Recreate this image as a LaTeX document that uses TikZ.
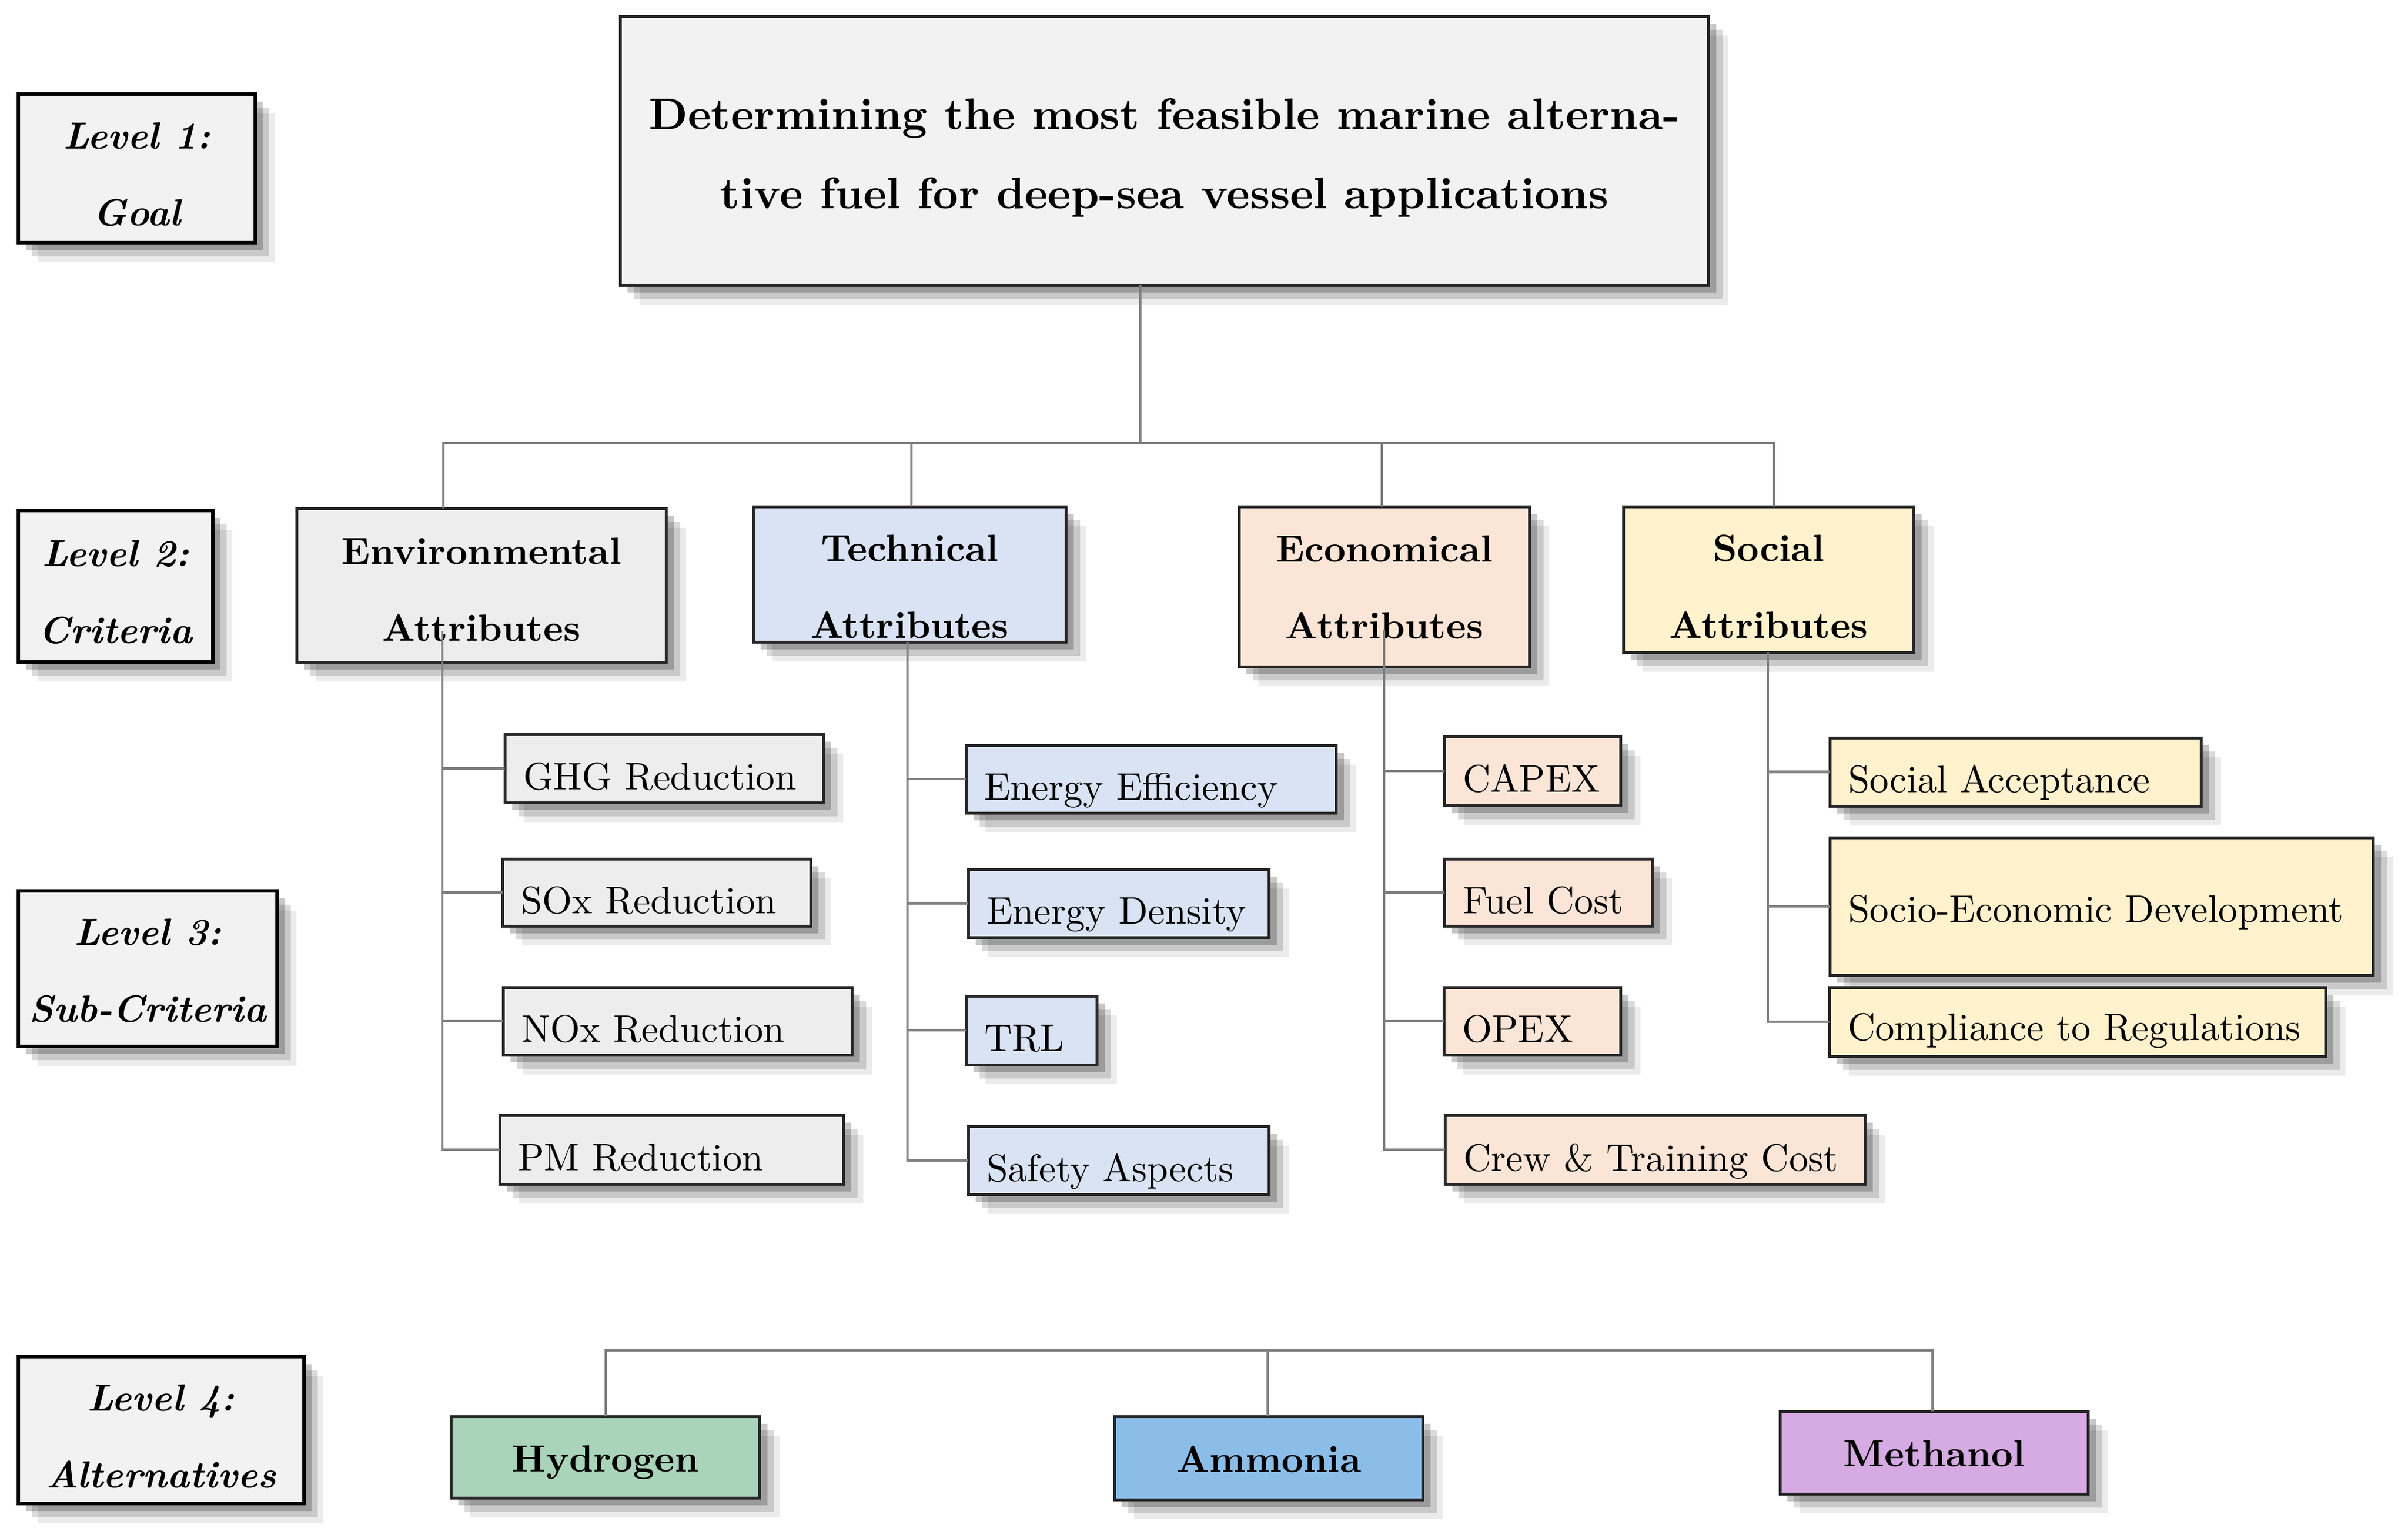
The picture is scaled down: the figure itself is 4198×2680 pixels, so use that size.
\documentclass[tikz,border=0pt]{standalone}
\usepackage{fontspec}
\setmainfont{lmroman10-regular.otf}[BoldFont=lmroman10-bold.otf,ItalicFont=lmroman10-italic.otf,BoldItalicFont=lmroman10-bolditalic.otf]
\usetikzlibrary{shadows}
\definecolor{bord}{HTML}{262626}
\definecolor{conng}{HTML}{7F7F7F}
\definecolor{lvlfill}{HTML}{F2F2F2}
\definecolor{goalfill}{HTML}{F2F2F2}
\definecolor{envfill}{HTML}{EDEDED}
\definecolor{techfill}{HTML}{DAE3F3}
\definecolor{econfill}{HTML}{FBE5D6}
\definecolor{socfill}{HTML}{FFF2CC}
\definecolor{hydfill}{HTML}{A9D4B9}
\definecolor{ammfill}{HTML}{8BBDE8}
\definecolor{metfill}{HTML}{D6AAE2}
\pgfdeclarelayer{bg}\pgfsetlayers{bg,main}
\newcommand\fs{\fontsize{6.6}{13.4}\selectfont}
\newcommand\fr{\fontsize{6.7}{13.4}\selectfont}
\newcommand\ft{\fontsize{7.7}{13.8}\selectfont}
\newcommand\bx[8]{\node[#2,anchor=north west,outer sep=0pt,minimum width=\fpeval{(#5-#3)/10}pt,minimum height=\fpeval{(#6-#4)/10}pt,#7] (#1) at (#3,#4) {#8};}
\newcommand\sbx[8]{\node[#2,anchor=north west,outer sep=0pt,minimum width=\fpeval{(#5-#3)/10}pt,minimum height=\fpeval{(#6-#4)/10}pt,text width=\fpeval{(#5-#3)/10-6.4}pt,inner xsep=3.2pt,inner ysep=0pt,align=left,#7] (#1) at (#3,#4) {\mbox{#8}};}
\tikzset{
  shad/.style={
    general shadow={fill=black,opacity=.08,shadow xshift=3.4pt,shadow yshift=-3.4pt},
    general shadow={fill=black,opacity=.14,shadow xshift=2.4pt,shadow yshift=-2.4pt},
    general shadow={fill=black,opacity=.22,shadow xshift=1.3pt,shadow yshift=-1.3pt}},
  lvl/.style={draw=black,line width=0.6pt,fill=lvlfill,shad,font=\fs\bfseries\itshape,align=center,inner sep=0pt},
  goalbox/.style={draw=bord,line width=0.5pt,fill=goalfill,shad,font=\ft\bfseries,align=center,inner sep=0pt},
  attr/.style={draw=bord,line width=0.5pt,shad,font=\fs\bfseries,align=center,inner sep=0pt},
  sub/.style={draw=bord,line width=0.5pt,shad,font=\fr},
  alt/.style={draw=bord,line width=0.5pt,shad,font=\fs\bfseries,align=center,inner sep=0pt},
  conn/.style={draw=conng,line width=0.42pt},
}
\newcommand\conns{%
  \draw[conn] (goal.south -| gx) -- (gx);
  \draw[conn] (busL |- env.north) -- (busL) -- (busR) -- (busR |- soc.north);
  \draw[conn] (techTop) -- (techTop |- tech.north);
  \draw[conn] (econTop) -- (econTop |- econ.north);
  \draw[conn] (envT) |- (pm.west);
  \foreach \n in {ghg,sox,nox} {\draw[conn] (envT |- \n.west) -- (\n.west);}
  \draw[conn] (tech.south -| techT) |- (saf.west);
  \foreach \n in {ee,ed,trl} {\draw[conn] (techT |- \n.west) -- (\n.west);}
  \draw[conn] (econT) |- (crew.west);
  \foreach \n in {capex,fuel,opex} {\draw[conn] (econT |- \n.west) -- (\n.west);}
  \draw[conn] (soc.south -| socT) |- (cr.west);
  \foreach \n in {sa,sed} {\draw[conn] (socT |- \n.west) -- (\n.west);}
  \draw[conn] (hyd.north -| bL) -- (bL) -- (bR) -- (bR |- met.north);
  \draw[conn] (bA) -- (bA |- amm.north);
}
\begin{document}
\begin{tikzpicture}[x=0.1pt,y=-0.1pt]
\useasboundingbox[fill=white] (0,0) rectangle (4198,2680);
% level boxes
\bx{l1}{lvl}{32}{164}{445}{423}{text height=20pt,text depth=0pt}{Level 1:\\Goal}
\bx{l2}{lvl}{32}{890}{371}{1154}{text height=19.8pt,text depth=0pt}{Level 2:\\Criteria}
\bx{l3}{lvl}{32}{1553}{483}{1824}{text height=18.6pt,text depth=0pt}{Level 3:\\Sub-Criteria}
\bx{l4}{lvl}{32}{2365}{530}{2621}{text height=20.1pt,text depth=0pt}{Level 4:\\Alternatives}
% goal
\bx{goal}{goalbox}{1081}{28}{2979}{497}{text height=20.1pt,text depth=0pt}{Determining the most feasible marine alterna-\\tive fuel for deep-sea vessel applications}
% criteria
\bx{env}{attr,fill=envfill}{517}{886}{1162}{1154}{text height=19.4pt,text depth=0pt}{Environmental\\Attributes}
\bx{tech}{attr,fill=techfill}{1313}{883}{1859}{1119}{text height=22.3pt,text depth=0pt}{Technical\\Attributes}
\bx{econ}{attr,fill=econfill}{2160}{883}{2667}{1162}{text height=18.2pt,text depth=0pt}{Economical\\Attributes}
\bx{soc}{attr,fill=socfill}{2830}{883}{3337}{1137}{text height=20.5pt,text depth=0pt}{Social\\Attributes}
% sub-criteria
\sbx{ghg}{sub,fill=envfill}{880}{1280}{1436}{1399}{text height=7.4pt,text depth=0pt}{GHG Reduction}
\sbx{ee}{sub,fill=techfill}{1684}{1299}{2330}{1417}{text height=7.2pt,text depth=0pt}{Energy Efficiency}
\sbx{capex}{sub,fill=econfill}{2518}{1284}{2826}{1404}{text height=7.3pt,text depth=0pt}{CAPEX}
\sbx{sa}{sub,fill=socfill}{3190}{1286}{3838}{1405}{text height=7.1pt,text depth=0pt}{Social Acceptance}
\sbx{sed}{sub,fill=socfill}{3190}{1460}{4138}{1700}{text height=5.4pt,text depth=0pt}{Socio-Economic Development}
\sbx{sox}{sub,fill=envfill}{876}{1497}{1414}{1614}{text height=7.3pt,text depth=0pt}{SOx Reduction}
\sbx{ed}{sub,fill=techfill}{1688}{1515}{2213}{1634}{text height=7.2pt,text depth=0pt}{Energy Density}
\sbx{fuel}{sub,fill=econfill}{2518}{1497}{2881}{1614}{text height=7.3pt,text depth=0pt}{Fuel Cost}
\sbx{nox}{sub,fill=envfill}{877}{1721}{1486}{1839}{text height=7.2pt,text depth=0pt}{NOx Reduction}
\sbx{trl}{sub,fill=techfill}{1684}{1736}{1913}{1856}{text height=7.3pt,text depth=0pt}{TRL}
\sbx{opex}{sub,fill=econfill}{2517}{1721}{2826}{1839}{text height=7.2pt,text depth=0pt}{OPEX}
\sbx{cr}{sub,fill=socfill}{3189}{1721}{4055}{1841}{text height=6.5pt,text depth=0pt}{Compliance to Regulations}
\sbx{pm}{sub,fill=envfill}{871}{1944}{1471}{2064}{text height=7.2pt,text depth=0pt}{PM Reduction}
\sbx{saf}{sub,fill=techfill}{1688}{1963}{2213}{2082}{text height=7.3pt,text depth=0pt}{Safety Aspects}
\sbx{crew}{sub,fill=econfill}{2519}{1944}{3252}{2064}{text height=7.4pt,text depth=0pt}{Crew \& Training Cost}
% alternatives
\bx{hyd}{alt,fill=hydfill}{786}{2469}{1325}{2611}{text height=5pt,text depth=0pt}{Hydrogen}
\bx{amm}{alt,fill=ammfill}{1943}{2469}{2481}{2614}{text height=4.9pt,text depth=0pt}{Ammonia}
\bx{met}{alt,fill=metfill}{3103}{2460}{3641}{2604}{text height=4.8pt,text depth=0pt}{Methanol}
% connector coordinates
\coordinate (gx) at (1988,772);
\coordinate (busL) at (773,772);
\coordinate (busR) at (3093,772);
\coordinate (techTop) at (1589,772);
\coordinate (econTop) at (2409,772);
\coordinate (envT) at (771,1100);
\coordinate (techT) at (1582,1119);
\coordinate (econT) at (2413,1099);
\coordinate (socT) at (3082,1137);
\coordinate (bL) at (1056,2354);
\coordinate (bR) at (3369,2354);
\coordinate (bA) at (2210,2354);
% connector shadows
\begin{pgfonlayer}{bg}
\begin{scope}[transform canvas={shift={(2pt,-2pt)}},conn/.style={draw=black!9,line width=2.8pt}]
\conns
\end{scope}
\begin{scope}[transform canvas={shift={(2pt,-2pt)}},conn/.style={draw=black!12,line width=1.5pt}]
\conns
\end{scope}
\end{pgfonlayer}
\conns
\end{tikzpicture}
\end{document}
